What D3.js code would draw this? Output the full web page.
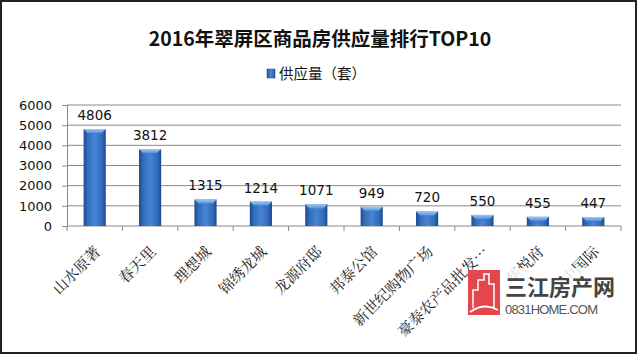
<!DOCTYPE html>
<html>
<head>
<meta charset="utf-8">
<script src="https://cdn.jsdelivr.net/npm/d3@7"></script>
<style>
  body { margin: 0; background: #fff; }
  svg { display: block; }
</style>
</head>
<body>
<svg id="chart" width="640" height="355"></svg>
<script>
// ---- data ----
var categories = ["山水原著", "春天里", "理想城", "锦绣龙城", "龙源府邸", "邦泰公馆", "新世纪购物广场", "豪泰农产品批发…", "华悦府", "中国际"];
var values = [4806, 3812, 1315, 1214, 1071, 949, 720, 550, 455, 447];
var yTicks = [0, 1000, 2000, 3000, 4000, 5000, 6000];
var seriesName = "供应量（套）";
var title = "2016年翠屏区商品房供应量排行TOP10";

var svg = d3.select("#chart");

// outer frame
svg.append("rect")
  .attr("x", 1).attr("y", 1)
  .attr("width", 635).attr("height", 352)
  .attr("fill", "#fff")
  .attr("stroke", "#222")
  .attr("stroke-width", 2);

// gradients for bars
var defs = svg.append("defs");
var grad = defs.append("linearGradient").attr("id", "barGrad")
  .attr("x1", "0").attr("x2", "1").attr("y1", "0").attr("y2", "0");
grad.append("stop").attr("offset", "0%").attr("stop-color", "#1b4a90");
grad.append("stop").attr("offset", "18%").attr("stop-color", "#336bba");
grad.append("stop").attr("offset", "50%").attr("stop-color", "#4684d4");
grad.append("stop").attr("offset", "82%").attr("stop-color", "#336bba");
grad.append("stop").attr("offset", "100%").attr("stop-color", "#1b4a90");
var capGrad = defs.append("linearGradient").attr("id", "capGrad")
  .attr("x1", "0").attr("x2", "0").attr("y1", "0").attr("y2", "1");
capGrad.append("stop").attr("offset", "0%").attr("stop-color", "#a0c8f4");
capGrad.append("stop").attr("offset", "100%").attr("stop-color", "#5590dc");

// title
svg.append("text")
  .attr("x", 320).attr("y", 46)
  .attr("text-anchor", "middle")
  .style("font-family", "'Noto Sans CJK SC', 'DejaVu Sans', sans-serif")
  .style("font-weight", "bold")
  .style("font-size", "19.5px")
  .attr("fill", "#111")
  .text(title);

// legend
svg.append("rect")
  .attr("x", 267).attr("y", 69)
  .attr("width", 8).attr("height", 9)
  .attr("fill", "url(#barGrad)")
  .attr("stroke", "#1b4a90").attr("stroke-width", 0.5);
svg.append("text")
  .attr("x", 279).attr("y", 79)
  .style("font-family", "'Noto Sans CJK SC', sans-serif")
  .style("font-size", "14.5px")
  .attr("fill", "#111")
  .text(seriesName);

// scales
var x = d3.scaleBand()
  .domain(categories)
  .range([67, 621])
  .paddingInner(0.6)
  .paddingOuter(0.3);

var y = d3.scaleLinear()
  .domain([0, 6000])
  .range([226, 105]);

var plot = svg.append("g");

// gridlines
plot.selectAll(".grid")
  .data(yTicks.slice(1))
  .enter().append("line")
  .attr("class", "grid")
  .attr("x1", 67).attr("x2", 621)
  .attr("y1", function(d) { return y(d); })
  .attr("y2", function(d) { return y(d); })
  .attr("stroke", "#8a8a8a")
  .attr("stroke-width", 1);

// y axis
var yAxis = plot.append("g")
  .attr("transform", "translate(67,0)")
  .call(d3.axisLeft(y).tickValues(yTicks).tickSize(5).tickPadding(10).tickFormat(d3.format("d")));
yAxis.select(".domain").attr("stroke", "#8a8a8a");
yAxis.selectAll(".tick line").attr("stroke", "#8a8a8a");
yAxis.selectAll("text")
  .style("font-family", "'DejaVu Sans', Verdana, sans-serif")
  .style("font-size", "13px")
  .attr("fill", "#111");

// x axis (ticks between bands)
var xAxis = plot.append("g").attr("transform", "translate(0,226)");
xAxis.append("line")
  .attr("x1", 67).attr("x2", 621)
  .attr("stroke", "#8a8a8a");
xAxis.selectAll(".xt")
  .data(d3.range(categories.length + 1))
  .enter().append("line")
  .attr("class", "xt")
  .attr("x1", function(i) { return 67 + i * x.step(); })
  .attr("x2", function(i) { return 67 + i * x.step(); })
  .attr("y1", 0).attr("y2", 5)
  .attr("stroke", "#8a8a8a");

// bars
var bars = plot.selectAll(".bar")
  .data(categories)
  .enter().append("g")
  .attr("class", "bar");

bars.append("rect")
  .attr("x", function(d) { return x(d); })
  .attr("y", function(d, i) { return y(values[i]); })
  .attr("width", x.bandwidth())
  .attr("height", function(d, i) { return y(0) - y(values[i]); })
  .attr("fill", "url(#barGrad)");

bars.append("path")
  .attr("d", function(d, i) {
    var x0 = x(d), x1 = x(d) + x.bandwidth(), t = y(values[i]);
    return "M" + x0 + "," + t + "L" + x1 + "," + t +
      "L" + (x1 - 4) + "," + (t + 4) + "L" + (x0 + 4) + "," + (t + 4) + "Z";
  })
  .attr("fill", "url(#capGrad)");

// value labels
bars.append("text")
  .attr("x", function(d) { return x(d) + x.bandwidth() / 2; })
  .attr("y", function(d, i) { return y(values[i]) - 9; })
  .attr("text-anchor", "middle")
  .style("font-family", "'DejaVu Sans', Verdana, sans-serif")
  .style("font-size", "13.5px")
  .attr("fill", "#111")
  .text(function(d, i) { return values[i]; });

// category labels, rotated
plot.selectAll(".xlab")
  .data(categories)
  .enter().append("text")
  .attr("class", "xlab")
  .attr("transform", function(d) {
    return "translate(" + (x(d) + x.bandwidth() / 2 + 3) + ",249) rotate(-45)";
  })
  .attr("text-anchor", "end")
  .attr("dy", "0.35em")
  .style("font-family", "'Noto Serif CJK SC', 'Noto Sans CJK SC', serif")
  .style("font-size", "15px")
  .attr("fill", "#222")
  .text(function(d) { return d; });

// watermark
var wm = svg.append("g");
wm.append("rect")
  .attr("x", 502).attr("y", 268)
  .attr("width", 98).attr("height", 50)
  .attr("fill", "#fff").attr("opacity", 0.85);
wm.append("rect")
  .attr("x", 468).attr("y", 270)
  .attr("width", 32).attr("height", 45)
  .attr("fill", "#e2474b");
wm.append("path")
  .attr("d", "M473,308 L473,290 L478,290 L478,280 L484,280 L484,274 L489,274 L489,284 L494,284 L494,308")
  .attr("fill", "none").attr("stroke", "#fff").attr("stroke-width", 1.5);
wm.append("path")
  .attr("d", "M470,312 Q484,302 498,310")
  .attr("fill", "none").attr("stroke", "#fff").attr("stroke-width", 2);
wm.append("text")
  .attr("x", 505).attr("y", 295)
  .style("font-family", "'Noto Sans CJK SC', sans-serif")
  .style("font-weight", "bold")
  .style("font-size", "22px")
  .attr("fill", "#444")
  .text("三江房产网");
wm.append("text")
  .attr("x", 505).attr("y", 314)
  .attr("textLength", 93)
  .style("font-family", "'Liberation Sans Narrow', 'Liberation Sans', sans-serif")
  .style("font-size", "13px")
  .attr("fill", "#555")
  .text("0831HOME.COM");
</script>
</body>
</html>
